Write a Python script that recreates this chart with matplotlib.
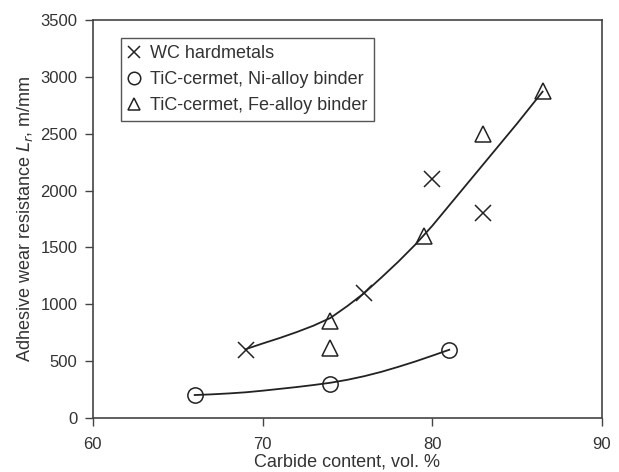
import matplotlib
matplotlib.use("Agg")
import matplotlib.pyplot as plt

plt.rcParams['font.family'] = ['Liberation Sans', 'DejaVu Sans']

# measured points
wc_x = [69, 76, 80, 83]
wc_y = [600, 1100, 2100, 1800]
ni_x = [66, 74, 81]
ni_y = [200, 300, 600]
fe_x = [74, 74, 79.5, 83, 86.5]
fe_y = [850, 620, 1600, 2500, 2880]

# trend curves
up_x = [69, 70, 71, 72, 73, 74, 75, 76, 77, 78, 79, 80, 81, 82, 83, 84, 85, 86.5]
up_y = [605, 655, 703, 755, 812, 880, 985, 1100, 1235, 1375, 1525, 1690, 1870, 2050,
        2230, 2410, 2590, 2870]
lo_x = [66, 67, 68, 69, 70, 71, 72, 73, 74, 75, 76, 77, 78, 79, 80, 81]
lo_y = [202, 208, 216, 226, 240, 256, 272, 290, 310, 336, 368, 406, 450, 497, 548, 600]

txt = '#333333'
fig = plt.figure(figsize=(6.19, 4.72), dpi=100)
ax = fig.add_axes([0.150, 0.1144, 0.8225, 0.8432])

ax.plot(up_x, up_y, color='#222222', lw=1.3)
ax.plot(lo_x, lo_y, color='#222222', lw=1.3)

ax.plot(wc_x, wc_y, 'x', color='#222222', ms=11, mew=1.1, ls='none', label='WC hardmetals')
ax.plot(ni_x, ni_y, 'o', mfc='none', mec='#222222', ms=11, mew=1.1, ls='none',
        label='TiC-cermet, Ni-alloy binder')
ax.plot(fe_x, fe_y, '^', mfc='none', mec='#222222', ms=12, mew=1.1, ls='none',
        label='TiC-cermet, Fe-alloy binder')

ax.set_xlim(60, 90)
ax.set_ylim(0, 3500)
ax.set_xticks([60, 70, 80, 90])
ax.set_yticks(range(0, 3501, 500))
ax.tick_params(direction='out', length=6, width=1, colors='#444444',
               labelcolor=txt, labelsize=12, pad=5)
ax.tick_params(axis='x', pad=8)
for s in ax.spines.values():
    s.set_color('#444444')
    s.set_linewidth(1.2)

ax.set_xlabel('Carbide content, vol. %', fontsize=13, color=txt, labelpad=1)
ax.set_ylabel('Adhesive wear resistance $L_r$, m/mm', fontsize=13, color=txt, labelpad=4)

leg = ax.legend(loc='upper left', bbox_to_anchor=(0.055, 0.955), borderaxespad=0,
                fontsize=13, fancybox=False, framealpha=1, handlelength=0.7,
                handletextpad=0.5, labelspacing=0.5, borderpad=0.4)
leg.get_frame().set_edgecolor('#555555')
leg.get_frame().set_linewidth(1.0)
for t in leg.get_texts():
    t.set_color(txt)
for h in leg.legend_handles:
    h.set_markersize(9)

fig.savefig('out.png', dpi=100)
